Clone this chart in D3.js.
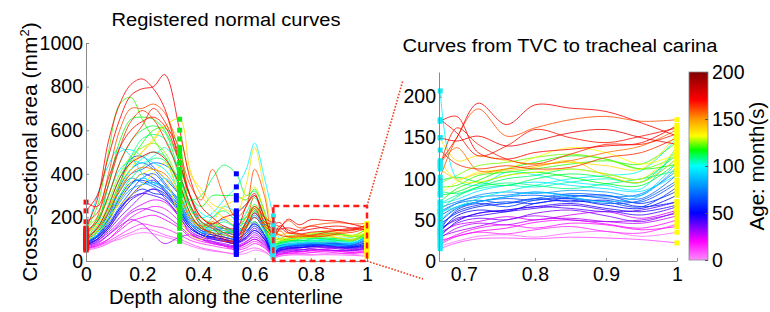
<!DOCTYPE html>
<html>
<head>
<meta charset="utf-8">
<script src="https://cdn.jsdelivr.net/npm/d3@7"></script>
<style>
  body { margin: 0; background: #fff; }
  text { font-family: "Liberation Sans", Arial, Helvetica, sans-serif; fill: #000; }
</style>
</head>
<body>
<div id="chart"></div>
<script>
// sample positions along the centerline (landmarks at 0, 1/3, 0.535, 2/3, 1)
var depth = [0, 0.04, 0.08, 0.12, 0.16, 0.2, 0.24, 0.28, 0.3333, 0.37, 0.41, 0.45, 0.49, 0.535, 0.57, 0.6, 0.635, 0.6667, 0.69, 0.72, 0.76, 0.8, 0.85, 0.9, 0.95, 1];

// age of each subject, months
var ages = [10, 5, 15, 18, 20, 28, 25, 30, 35, 40, 42,
            45, 50, 55, 58, 60, 65, 68, 70, 75, 80,
            90, 95, 98, 102,
            105, 108, 110, 112, 115, 118, 120, 124,
            132, 135, 138, 140,
            156, 160, 164, 166, 168, 170, 172, 174];

// cross-sectional area (mm^2) of each subject at the depth samples above
var areas = [
  [50, 60, 80, 110, 130, 150, 140, 120, 100, 80, 60, 50, 40, 35, 50, 60, 45, 15, 22, 27, 28, 27, 29, 28, 26, 22],
  [55, 65, 85, 100, 120, 130, 125, 110, 90, 70, 55, 45, 40, 30, 35, 50, 40, 18, 24, 30, 32, 29, 34, 36, 30, 35],
  [55, 70, 90, 120, 150, 170, 160, 150, 120, 95, 80, 70, 60, 55, 70, 90, 65, 20, 30, 35, 33, 38, 42, 36, 34, 45],
  [60, 70, 100, 150, 200, 230, 250, 240, 180, 130, 110, 90, 70, 50, 60, 80, 60, 22, 32, 40, 44, 40, 46, 44, 38, 42],
  [60, 75, 100, 140, 180, 200, 210, 190, 150, 110, 90, 80, 70, 60, 80, 100, 70, 25, 30, 36, 40, 47, 50, 45, 40, 50],
  [70, 85, 120, 160, 190, 170, 120, 80, 110, 120, 100, 85, 75, 65, 80, 100, 75, 28, 40, 46, 44, 50, 52, 48, 46, 55],
  [75, 95, 130, 180, 230, 260, 280, 270, 200, 130, 100, 80, 70, 65, 85, 120, 85, 35, 44, 48, 54, 50, 56, 60, 52, 62],
  [65, 80, 120, 170, 220, 240, 230, 210, 160, 120, 100, 90, 80, 70, 90, 110, 80, 30, 36, 42, 50, 55, 50, 48, 50, 58],
  [70, 90, 140, 200, 250, 300, 330, 290, 200, 140, 110, 100, 90, 80, 100, 130, 90, 32, 46, 52, 50, 58, 62, 55, 48, 60],
  [80, 100, 150, 230, 300, 350, 370, 320, 230, 160, 120, 110, 100, 90, 110, 150, 100, 40, 50, 58, 62, 66, 64, 60, 62, 72],
  [90, 110, 160, 240, 290, 310, 300, 280, 210, 150, 120, 105, 95, 85, 105, 140, 100, 36, 52, 55, 60, 64, 68, 62, 56, 66],
  [75, 100, 150, 220, 280, 310, 330, 310, 230, 160, 120, 100, 90, 80, 110, 140, 100, 30, 48, 58, 62, 66, 70, 64, 60, 68],
  [80, 110, 180, 280, 350, 400, 380, 330, 250, 170, 130, 110, 100, 90, 120, 160, 110, 36, 55, 62, 60, 70, 74, 68, 64, 80],
  [70, 100, 160, 240, 300, 330, 310, 300, 220, 150, 120, 110, 130, 120, 140, 170, 120, 45, 58, 66, 70, 76, 72, 74, 66, 72],
  [85, 115, 190, 290, 360, 370, 350, 320, 240, 170, 130, 120, 110, 100, 130, 170, 120, 42, 60, 68, 72, 70, 78, 80, 70, 85],
  [90, 120, 200, 350, 470, 480, 430, 380, 300, 200, 140, 120, 110, 100, 130, 180, 120, 38, 62, 70, 66, 74, 76, 72, 66, 90],
  [85, 110, 170, 250, 320, 380, 400, 350, 260, 180, 140, 130, 120, 110, 150, 200, 140, 48, 64, 72, 76, 74, 80, 76, 72, 95],
  [100, 130, 220, 340, 420, 450, 420, 360, 270, 190, 150, 140, 150, 140, 170, 220, 150, 55, 66, 72, 78, 80, 76, 70, 74, 98],
  [100, 130, 220, 330, 400, 420, 450, 440, 380, 260, 180, 160, 150, 130, 170, 230, 160, 60, 70, 74, 70, 76, 82, 80, 76, 105],
  [110, 140, 230, 320, 380, 360, 340, 300, 230, 170, 150, 170, 190, 160, 200, 250, 170, 65, 72, 78, 80, 84, 80, 78, 82, 110],
  [95, 130, 190, 270, 330, 350, 360, 340, 280, 200, 160, 150, 140, 120, 160, 210, 150, 58, 70, 80, 84, 82, 86, 84, 80, 115],
  [90, 120, 200, 300, 350, 380, 360, 330, 250, 170, 130, 140, 160, 130, 160, 200, 140, 50, 65, 72, 78, 84, 78, 72, 80, 120],
  [130, 300, 440, 520, 480, 400, 350, 380, 300, 200, 160, 140, 130, 150, 180, 200, 140, 70, 75, 85, 92, 96, 92, 88, 85, 105],
  [100, 160, 350, 500, 510, 480, 450, 420, 320, 250, 200, 220, 280, 340, 420, 540, 380, 207, 100, 92, 108, 105, 96, 92, 88, 140],
  [120, 180, 300, 420, 460, 450, 480, 520, 420, 300, 220, 200, 250, 230, 260, 300, 200, 60, 66, 76, 85, 92, 100, 104, 110, 150],
  [115, 160, 240, 350, 420, 470, 500, 480, 330, 210, 160, 140, 140, 130, 170, 230, 160, 70, 80, 88, 92, 90, 96, 100, 96, 125],
  [110, 150, 260, 380, 480, 560, 580, 560, 380, 250, 170, 160, 180, 160, 220, 290, 200, 85, 82, 90, 95, 92, 88, 94, 100, 110],
  [90, 130, 200, 300, 380, 430, 470, 460, 300, 200, 150, 200, 230, 190, 200, 240, 160, 62, 78, 90, 100, 104, 112, 106, 100, 130],
  [130, 190, 300, 450, 550, 600, 620, 590, 400, 280, 300, 380, 440, 400, 300, 320, 230, 98, 102, 96, 92, 100, 106, 102, 96, 135],
  [120, 180, 350, 550, 650, 660, 650, 600, 450, 300, 250, 300, 300, 300, 280, 330, 220, 80, 84, 94, 104, 108, 102, 94, 92, 120],
  [100, 140, 230, 360, 460, 540, 600, 610, 520, 240, 180, 150, 130, 140, 200, 260, 180, 72, 88, 98, 112, 120, 128, 124, 112, 118],
  [140, 250, 500, 720, 750, 650, 560, 480, 350, 250, 200, 170, 150, 140, 160, 180, 130, 90, 92, 104, 108, 112, 118, 122, 118, 145],
  [150, 200, 280, 400, 480, 520, 540, 500, 350, 220, 150, 130, 120, 110, 150, 230, 160, 95, 104, 116, 120, 126, 130, 124, 112, 128],
  [90, 130, 180, 280, 360, 400, 420, 380, 200, 120, 100, 150, 200, 170, 150, 250, 180, 82, 96, 108, 112, 126, 138, 132, 118, 130],
  [100, 140, 200, 260, 300, 350, 400, 450, 300, 200, 150, 180, 250, 280, 300, 340, 220, 122, 98, 96, 104, 108, 112, 106, 100, 138],
  [120, 170, 250, 330, 420, 500, 560, 620, 560, 400, 330, 260, 240, 220, 350, 520, 330, 150, 122, 128, 122, 118, 120, 116, 112, 155],
  [130, 160, 230, 350, 450, 500, 550, 620, 650, 420, 300, 240, 200, 160, 200, 250, 160, 112, 100, 106, 110, 114, 122, 104, 96, 125],
  [110, 150, 220, 320, 400, 430, 420, 400, 300, 200, 160, 180, 150, 120, 180, 300, 200, 118, 138, 110, 112, 116, 122, 132, 140, 160],
  [120, 200, 400, 600, 700, 700, 720, 680, 500, 350, 280, 420, 300, 200, 250, 420, 300, 102, 150, 185, 152, 162, 172, 176, 170, 172],
  [180, 220, 350, 520, 640, 690, 650, 560, 400, 260, 160, 120, 90, 100, 180, 240, 160, 135, 118, 112, 116, 112, 114, 126, 132, 150],
  [140, 180, 300, 450, 550, 620, 700, 640, 480, 300, 180, 150, 110, 90, 160, 200, 150, 115, 162, 142, 124, 118, 130, 142, 142, 155],
  [270, 250, 380, 520, 600, 640, 660, 620, 450, 300, 200, 160, 130, 110, 180, 250, 200, 172, 156, 128, 140, 160, 150, 144, 152, 162],
  [150, 280, 550, 720, 810, 835, 790, 700, 450, 300, 200, 170, 200, 220, 260, 310, 180, 170, 176, 132, 124, 132, 136, 140, 144, 165],
  [230, 300, 480, 650, 760, 790, 800, 855, 600, 380, 250, 200, 160, 150, 250, 300, 200, 120, 150, 192, 166, 190, 186, 182, 168, 152],
  [100, 150, 250, 380, 450, 480, 500, 470, 350, 220, 150, 130, 100, 80, 150, 220, 170, 150, 146, 152, 140, 146, 156, 160, 150, 142]
];

// landmark sample index and marker colour
var landmarkIdx = [0, 8, 13, 17, 25];
var landmarkColor = ["#ff1010", "#10f010", "#0000ff", "#20e8f0", "#ffff00"];

var leftTicksX = [0, 0.2, 0.4, 0.6, 0.8, 1];
var leftTicksY = [0, 200, 400, 600, 800, 1000];
var rightTicksX = [0.7, 0.8, 0.9, 1];
var rightTicksY = [0, 50, 100, 150, 200];
var ageTicks = [0, 50, 100, 150, 200];

// age colour map
var ageStops = [0, 20, 50, 75, 100, 117, 132, 150, 170, 200];
var ageColors = ["#ff8cff", "#ff00ff", "#0000ff", "#0080ff", "#00ffff", "#00ff00", "#ffff00", "#ff9900", "#ff0000", "#800000"];

(function() {
    var width = 770, height = 312;
    var color = d3.scaleLinear().domain(ageStops).range(ageColors);

    var svg = d3.select("#chart").append("svg")
        .attr("width", width)
        .attr("height", height);

    var subjects = ages.map(function(a, i) {
        return { age: a, pts: depth.map(function(x, j) { return [x, areas[i][j]]; }) };
    });

    var xL = d3.scaleLinear().domain([0, 1]).range([86, 367]);
    var yL = d3.scaleLinear().domain([0, 1000]).range([261, 43]);
    var xR = d3.scaleLinear().domain([0.665, 1]).range([439, 677]);
    var yR = d3.scaleLinear().domain([0, 230]).range([261, 72]);

    function axes(g, x, y, tx, ty) {
        var ax = g.append("g").attr("transform", "translate(0," + y.range()[0] + ")")
            .call(d3.axisBottom(x).tickValues(tx).tickSizeInner(-3).tickSizeOuter(0).tickPadding(6)
                .tickFormat(d3.format("~g")));
        var ay = g.append("g").attr("transform", "translate(" + x.range()[0] + ",0)")
            .call(d3.axisLeft(y).tickValues(ty).tickSizeInner(-3).tickSizeOuter(0).tickPadding(3)
                .tickFormat(d3.format("d")));
        [ax, ay].forEach(function(a) {
            a.select(".domain").attr("stroke", "#8a8a8a");
            a.selectAll(".tick line").attr("stroke", "#8a8a8a");
            a.selectAll("text").attr("font-size", 19.5).attr("fill", "#000")
                .style("font-family", "Liberation Sans, Arial, sans-serif");
        });
    }

    function curves(g, x, y, from) {
        var line = d3.line()
            .x(function(d) { return x(d[0]); })
            .y(function(d) { return y(d[1]); })
            .curve(d3.curveCatmullRom.alpha(0.5));
        g.selectAll(".curve").data(subjects).enter().append("path")
            .attr("class", "curve")
            .attr("fill", "none")
            .attr("stroke-width", 0.9)
            .attr("stroke-opacity", 0.9)
            .attr("stroke", function(d) { return color(d.age); })
            .attr("d", function(d) { return line(d.pts.slice(from)); });
    }

    function markers(g, x, y, which) {
        which.forEach(function(k) {
            g.selectAll(".lm" + k).data(subjects).enter().append("rect")
                .attr("x", function(d) { return x(d.pts[landmarkIdx[k]][0]) - 2.5; })
                .attr("y", function(d) { return y(d.pts[landmarkIdx[k]][1]) - 2.5; })
                .attr("width", 5).attr("height", 5)
                .attr("fill", landmarkColor[k]);
        });
    }

    // left panel
    var left = svg.append("g");
    curves(left, xL, yL, 0);
    markers(left, xL, yL, [0, 1, 2, 3, 4]);
    axes(left, xL, yL, leftTicksX, leftTicksY);

    // zoom box and connector lines
    svg.append("rect")
        .attr("x", xL(2 / 3)).attr("y", yL(252))
        .attr("width", xL(1) - xL(2 / 3)).attr("height", yL(0) - yL(252))
        .attr("fill", "none").attr("stroke", "#ff1a1a")
        .attr("stroke-width", 2.5).attr("stroke-dasharray", "6,4");
    svg.append("line")
        .attr("x1", xL(1)).attr("y1", yL(252)).attr("x2", 403).attr("y2", 80)
        .attr("stroke", "#f04020").attr("stroke-width", 1.6).attr("stroke-dasharray", "1.6,1.6");
    svg.append("line")
        .attr("x1", xL(1)).attr("y1", yL(0)).attr("x2", 423).attr("y2", 279)
        .attr("stroke", "#f04020").attr("stroke-width", 1.6).attr("stroke-dasharray", "1.6,1.6");

    // right panel
    var right = svg.append("g");
    curves(right, xR, yR, 17);
    markers(right, xR, yR, [3, 4]);
    axes(right, xR, yR, rightTicksX, rightTicksY);

    // titles and labels
    svg.append("text").attr("x", 226).attr("y", 26).attr("text-anchor", "middle")
        .attr("font-size", 18).attr("textLength", 229).attr("lengthAdjust", "spacingAndGlyphs")
        .text("Registered normal curves");
    svg.append("text").attr("x", 560).attr("y", 52).attr("text-anchor", "middle")
        .attr("font-size", 18).attr("textLength", 315).attr("lengthAdjust", "spacingAndGlyphs")
        .text("Curves from TVC to tracheal carina");
    svg.append("text").attr("x", 226).attr("y", 304).attr("text-anchor", "middle")
        .attr("font-size", 20.5).attr("textLength", 234).attr("lengthAdjust", "spacingAndGlyphs")
        .text("Depth along the centerline");
    var yl = svg.append("text").attr("transform", "translate(37,152) rotate(-90)")
        .attr("text-anchor", "middle").attr("font-size", 21);
    yl.append("tspan").text("Cross\u2013sectional area (mm");
    yl.append("tspan").attr("dy", -8).attr("font-size", 13).text("2");
    yl.append("tspan").attr("dy", 8).text(")");

    // colour bar
    var cb = svg.append("g");
    var yC = d3.scaleLinear().domain([0, 200]).range([260, 72]);
    var grad = svg.append("defs").append("linearGradient").attr("id", "agegrad")
        .attr("x1", 0).attr("y1", 1).attr("x2", 0).attr("y2", 0);
    grad.selectAll("stop").data(ageStops).enter().append("stop")
        .attr("offset", function(d) { return d / 200; })
        .attr("stop-color", function(d) { return color(d); });
    cb.append("rect").attr("x", 689).attr("y", yC(200)).attr("width", 19).attr("height", yC(0) - yC(200))
        .attr("fill", "url(#agegrad)").attr("stroke", "#8a8a8a").attr("stroke-width", 0.8);
    var cax = cb.append("g").attr("transform", "translate(708,0)")
        .call(d3.axisRight(yC).tickValues(ageTicks).tickSizeInner(-3).tickSizeOuter(0).tickPadding(4));
    cax.select(".domain").remove();
    cax.selectAll(".tick line").attr("stroke", "#555");
    cax.selectAll("text").attr("font-size", 19.5).attr("fill", "#000")
        .style("font-family", "Liberation Sans, Arial, sans-serif");
    svg.append("text").attr("transform", "translate(764,166) rotate(-90)")
        .attr("text-anchor", "middle").attr("font-size", 20.5).text("Age: month(s)");
})();
</script>
</body>
</html>
